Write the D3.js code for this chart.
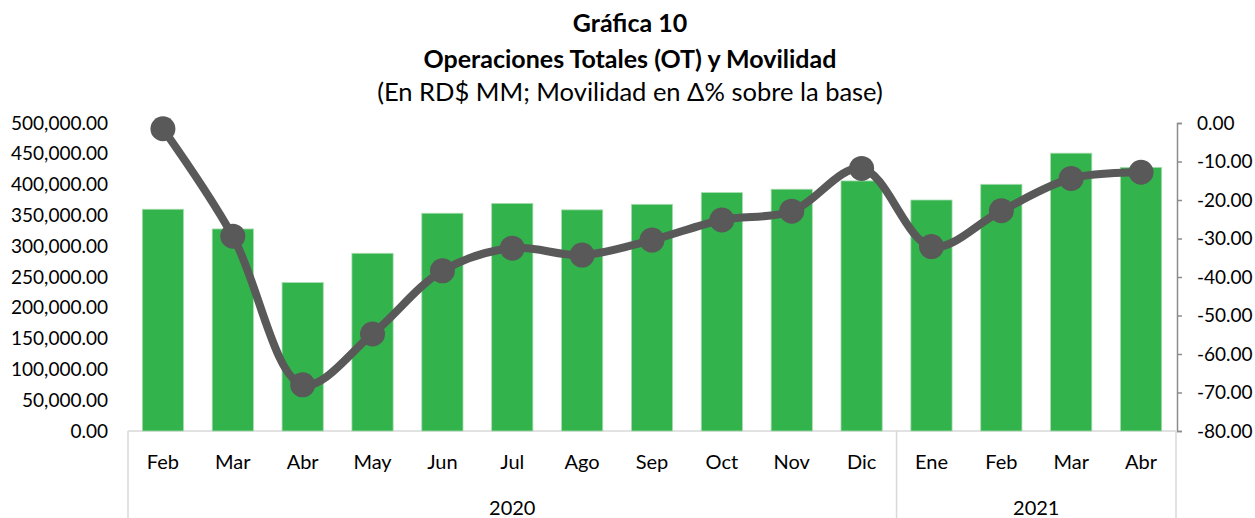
<script src="https://d3js.org/d3.v7.min.js"></script>

<svg id="vis"></svg>

<script>

  /***** DATA *****/

  var months = ['Feb', 'Mar', 'Abr', 'May', 'Jun', 'Jul', 'Ago', 'Sep', 'Oct', 'Nov', 'Dic', 'Ene', 'Feb', 'Mar', 'Abr']
  var years = [{ label: '2020', from: 0, to: 11 }, { label: '2021', from: 11, to: 15 }]
  var operaciones = [360000, 328000, 241000, 288500, 353500, 369500, 359000, 368000, 387000, 392500, 406000, 375000, 400500, 451000, 428000]
  var movilidad = [-1.5, -29.4, -68.0, -54.8, -38.4, -32.5, -34.3, -30.4, -25.2, -22.9, -11.8, -32.1, -22.8, -14.4, -12.8]
  var leftTicks = [0, 50000, 100000, 150000, 200000, 250000, 300000, 350000, 400000, 450000, 500000]
  var rightTicks = [0, -10, -20, -30, -40, -50, -60, -70, -80]
  var titles = ['Gráfica 10', 'Operaciones Totales (OT) y Movilidad', '(En RD$ MM; Movilidad en Δ% sobre la base)']


  /***** SETUP *****/

  var width = 1255
  var height = 518
  var font = 'Lato, "Open Sans", sans-serif'

  var svg = d3.select('#vis')
  .attr('width', width)
  .attr('height', height)
  .style('background-color', 'white')
  .style('display', 'block')

  var plotLeft = 128
  var plotRight = 1176
  var plotTop = 123
  var plotBottom = 431

  // Scales
  var x = d3.scaleBand()
  .domain(d3.range(months.length))
  .range([plotLeft, plotRight])
  .paddingInner(0.41)
  .paddingOuter(0.205)

  var step = (plotRight - plotLeft) / months.length

  var yLeft = d3.scaleLinear()
  .domain([0, 500000])
  .range([plotBottom, plotTop])

  var yRight = d3.scaleLinear()
  .domain([-80, 0])
  .range([plotBottom, plotTop])

  var fmt = d3.format(',.2f')


  /***** TITLES *****/

  svg.selectAll('.title')
  .data(titles)
  .enter()
  .append('text')
  .attr('class', 'title')
  .text(function (d) { return d })
  .attr('x', 630)
  .attr('y', function (d, i) { return [32, 68, 101][i] })
  .attr('text-anchor', 'middle')
  .style('font-family', font)
  .style('font-size', function (d, i) { return i < 2 ? '25px' : '25.5px' })
  .style('font-weight', function (d, i) { return i < 2 ? 700 : 400 })
  .style('fill', '#000')


  /***** AXES *****/

  // Left axis (labels only)
  var leftAxis = svg.append('g')
  .attr('transform', 'translate(' + plotLeft + ',0)')
  .call(d3.axisLeft(yLeft).tickValues(leftTicks).tickFormat(fmt).tickSize(0).tickPadding(20))

  leftAxis.select('.domain').remove()
  leftAxis.selectAll('text')
  .style('font-family', font)
  .style('font-size', '19px')
  .style('fill', '#000')

  // Right axis
  var rightAxis = svg.append('g')
  .attr('transform', 'translate(1177,0)')
  .call(d3.axisRight(yRight).tickValues(rightTicks).tickFormat(d3.format('.2f')).tickSize(5).tickSizeOuter(5).tickPadding(15))

  rightAxis.select('.domain').attr('stroke', '#8c8c8c').attr('stroke-width', 1.5)
  rightAxis.selectAll('line').attr('stroke', '#8c8c8c').attr('stroke-width', 1.5)
  rightAxis.selectAll('text')
  .text(function (d) { return d3.format('.2f')(d).replace('−', '-') })
  .style('font-family', font)
  .style('font-size', '19px')
  .style('fill', '#000')

  // Category box
  var boxColor = '#d9d9d9'
  svg.append('line')
  .attr('x1', plotLeft).attr('x2', plotRight)
  .attr('y1', plotBottom).attr('y2', plotBottom)
  .attr('stroke', boxColor).attr('stroke-width', 1.5)

  svg.selectAll('.divider')
  .data([0, 11, 15])
  .enter()
  .append('line')
  .attr('class', 'divider')
  .attr('x1', function (d) { return plotLeft + d * step })
  .attr('x2', function (d) { return plotLeft + d * step })
  .attr('y1', plotBottom)
  .attr('y2', height)
  .attr('stroke', boxColor)
  .attr('stroke-width', 1.5)

  // Month labels
  svg.selectAll('.month')
  .data(months)
  .enter()
  .append('text')
  .attr('class', 'month')
  .text(function (d) { return d })
  .attr('x', function (d, i) { return x(i) + x.bandwidth() / 2 })
  .attr('y', 469)
  .attr('text-anchor', 'middle')
  .style('font-family', font)
  .style('font-size', '20px')
  .style('fill', '#000')

  // Year labels
  svg.selectAll('.year')
  .data(years)
  .enter()
  .append('text')
  .attr('class', 'year')
  .text(function (d) { return d.label })
  .attr('x', function (d) { return plotLeft + (d.from + d.to) / 2 * step })
  .attr('y', 515)
  .attr('text-anchor', 'middle')
  .style('font-family', font)
  .style('font-size', '20px')
  .style('fill', '#000')


  /***** BARS *****/

  svg.selectAll('.bar')
  .data(operaciones)
  .enter()
  .append('rect')
  .attr('class', 'bar')
  .attr('x', function (d, i) { return x(i) })
  .attr('y', function (d) { return yLeft(d) })
  .attr('width', x.bandwidth())
  .attr('height', function (d) { return plotBottom - yLeft(d) })
  .attr('fill', '#33b34c')
  .attr('stroke', '#a9dcb1')
  .attr('stroke-width', 0.8)


  /***** LINE *****/

  var line = d3.line()
  .x(function (d, i) { return x(i) + x.bandwidth() / 2 })
  .y(function (d) { return yRight(d) })
  .curve(d3.curveCatmullRom.alpha(0.5))

  svg.append('path')
  .datum(movilidad)
  .attr('d', line)
  .attr('fill', 'none')
  .attr('stroke', '#595959')
  .attr('stroke-width', 8)
  .attr('stroke-linecap', 'round')
  .attr('stroke-linejoin', 'round')

  svg.selectAll('.dot')
  .data(movilidad)
  .enter()
  .append('circle')
  .attr('class', 'dot')
  .attr('cx', function (d, i) { return x(i) + x.bandwidth() / 2 })
  .attr('cy', function (d) { return yRight(d) })
  .attr('r', 12.5)
  .attr('fill', '#595959')

</script>

<body style="margin: 0;"></body>
